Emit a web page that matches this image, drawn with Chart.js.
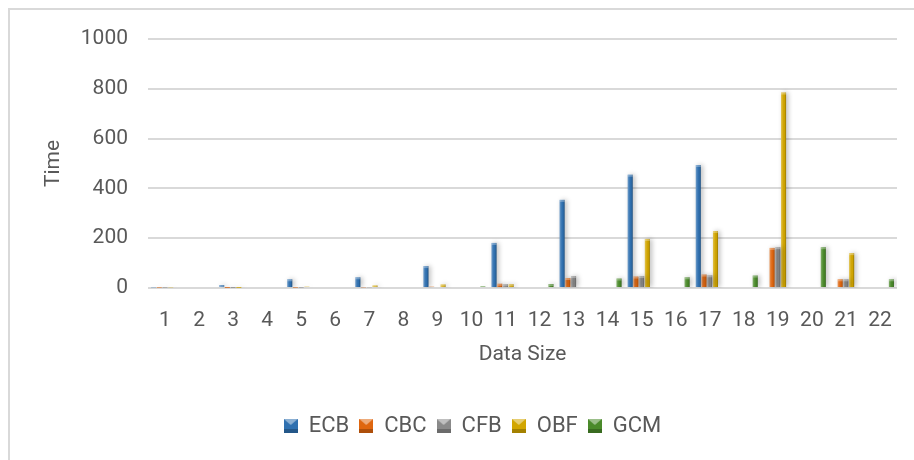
<!DOCTYPE html>
<html>
<head>
<meta charset="utf-8">
<script src="https://cdn.jsdelivr.net/npm/chart.js@4.4.1/dist/chart.umd.min.js"></script>
<style>
  html, body { margin: 0; padding: 0; background: #ffffff; overflow: hidden; }
  #wrap { position: relative; width: 914px; height: 460px; }
  #frame { position: absolute; left: 8px; top: 8px; width: 920px; height: 470px;
           border: 2px solid #d9d9d9; box-sizing: border-box; }
  canvas { position: absolute; left: 0; top: 0; }
</style>
</head>
<body>
<div id="wrap">
  <div id="frame"></div>
  <canvas id="chart" width="914" height="460"></canvas>
</div>
<script>
// Data size categories
const categories = ['1','2','3','4','5','6','7','8','9','10','11','12','13','14','15','16','17','18','19','20','21','22'];

// Time per mode of operation
const ecb = [3, 0, 12, 0, 35, 0, 43, 0, 88, 0, 181, 0, 354, 0, 455, 0, 494, 0, 0, 0, 0, 0];
const cbc = [2, 0, 1, 0, 2, 0, 3, 0, 5, 0, 17, 0, 40, 0, 46, 0, 54, 0, 161, 0, 35, 0];
const cfb = [2, 0, 1, 0, 2, 0, 3, 0, 4, 0, 15, 0, 48, 0, 48, 0, 51, 0, 164, 0, 35, 0];
const obf = [3, 0, 1, 0, 5, 0, 10, 0, 14, 0, 15, 0, 0, 0, 197, 0, 229, 0, 785, 0, 140, 0];
const gcm = [0, 0, 0, 0, 0, 0, 0, 0, 0, 6, 0, 16, 0, 38, 0, 43, 0, 50, 0, 164, 0, 35];

const yTicks = [0, 200, 400, 600, 800, 1000];

const seriesNames = ['ECB', 'CBC', 'CFB', 'OBF', 'GCM'];
const seriesData = [ecb, cbc, cfb, obf, gcm];
const seriesColors = ['#2f70b0', '#df660f', '#8a8a8a', '#d2a600', '#4a8a2a'];

const FONT = 'Roboto, "Liberation Sans", sans-serif';
const TEXT = '#595959';

// Bevelled square swatch used as the legend marker
function swatch(color) {
  const c = document.createElement('canvas');
  c.width = 14; c.height = 14;
  const g = c.getContext('2d');
  g.fillStyle = color;
  g.fillRect(0, 0, 14, 14);
  g.fillStyle = 'rgba(0,0,0,0.22)';
  g.fillRect(0, 10, 14, 4);
  g.fillStyle = 'rgba(255,255,255,0.45)';
  g.beginPath();
  g.moveTo(0, 0); g.lineTo(14, 0); g.lineTo(7, 6); g.closePath();
  g.fill();
  return c;
}

// Soft drop shadow under the bars plus a bevelled highlight on each one
const bevelBars = {
  id: 'bevelBars',
  beforeDatasetsDraw(chart) {
    const ctx = chart.ctx;
    ctx.save();
    ctx.shadowColor = 'rgba(0,0,0,0.28)';
    ctx.shadowBlur = 5;
    ctx.shadowOffsetX = 2;
    ctx.shadowOffsetY = 0;
  },
  afterDatasetsDraw(chart) {
    const ctx = chart.ctx;
    ctx.restore();
    ctx.save();
    chart.data.datasets.forEach((ds, i) => {
      const meta = chart.getDatasetMeta(i);
      if (meta.hidden) return;
      meta.data.forEach(el => {
        const p = el.getProps(['x', 'y', 'base', 'width'], true);
        const h = p.base - p.y;
        if (h < 0.5) return;
        const left = p.x - p.width / 2;
        const g = ctx.createLinearGradient(left, 0, left + p.width, 0);
        g.addColorStop(0, 'rgba(255,255,255,0.30)');
        g.addColorStop(0.35, 'rgba(255,255,255,0.08)');
        g.addColorStop(0.65, 'rgba(0,0,0,0)');
        g.addColorStop(1, 'rgba(0,0,0,0.28)');
        ctx.fillStyle = g;
        ctx.fillRect(left, p.y, p.width, h);
        ctx.fillStyle = 'rgba(255,255,255,0.30)';
        ctx.fillRect(left, p.y, p.width, Math.min(2, h));
      });
    });
    ctx.restore();
  }
};

// Nudge the legend row a little to the right of centre
const legendShift = {
  id: 'legendShift',
  beforeDraw(chart) {
    if (chart.legend) { chart.legend.left += 20; chart.legend.right += 20; }
  }
};

new Chart(document.getElementById('chart'), {
  type: 'bar',
  data: {
    labels: categories,
    datasets: seriesNames.map((name, i) => ({
      label: name,
      data: seriesData[i],
      backgroundColor: seriesColors[i],
      pointStyle: swatch(seriesColors[i]),
      borderWidth: 0,
      categoryPercentage: 0.84,
      barPercentage: 0.88
    }))
  },
  options: {
    responsive: false,
    animation: false,
    layout: { padding: { left: 8, right: 17, top: 39, bottom: 13 } },
    plugins: {
      tooltip: { enabled: false },
      legend: {
        position: 'bottom',
        labels: {
          color: TEXT,
          font: { family: FONT, size: 22 },
          usePointStyle: true,
          boxWidth: 14,
          boxHeight: 14,
          padding: 10
        }
      }
    },
    scales: {
      x: {
        grid: { display: false },
        border: { display: false },
        ticks: { color: TEXT, font: { family: FONT, size: 21 }, padding: 12, maxRotation: 0, autoSkip: false },
        title: { display: true, text: 'Data Size', color: TEXT, font: { family: FONT, size: 21 }, padding: { top: 0, bottom: 38 } },
        afterFit(s) { s.height = 117; }
      },
      y: {
        min: 0,
        max: 1000,
        afterBuildTicks(s) { s.ticks = yTicks.map(v => ({ value: v })); },
        grid: { color: '#d9d9d9', lineWidth: 2, drawTicks: false },
        border: { display: false },
        ticks: { color: TEXT, font: { family: FONT, size: 21 }, padding: 20, callback: v => String(v) },
        title: { display: true, text: 'Time', color: TEXT, font: { family: FONT, size: 21 }, padding: { top: 33, bottom: 0 } },
        afterFit(s) { s.width = 140; }
      }
    }
  },
  plugins: [bevelBars, legendShift]
});
</script>
</body>
</html>
